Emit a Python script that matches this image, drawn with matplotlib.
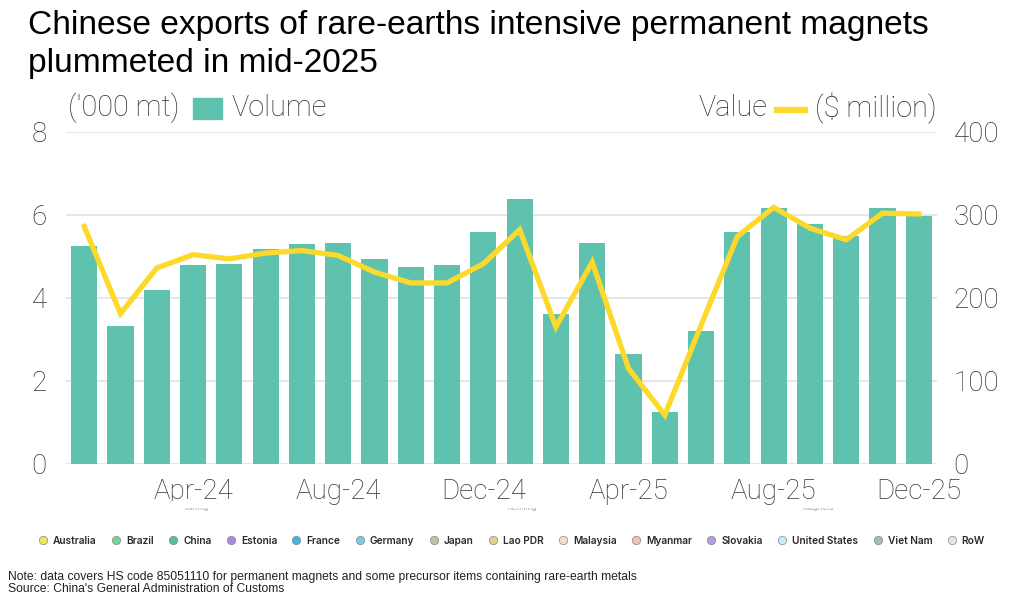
import matplotlib.pyplot as plt
from matplotlib.patches import Rectangle
from matplotlib.lines import Line2D

months = ["Jan-24", "Feb-24", "Mar-24", "Apr-24", "May-24", "Jun-24", "Jul-24", "Aug-24",
          "Sep-24", "Oct-24", "Nov-24", "Dec-24", "Jan-25", "Feb-25", "Mar-25", "Apr-25",
          "May-25", "Jun-25", "Jul-25", "Aug-25", "Sep-25", "Oct-25", "Nov-25", "Dec-25"]
# volume, '000 mt
volume = [5.26, 3.33, 4.20, 4.79, 4.82, 5.17, 5.29, 5.33, 4.93, 4.74, 4.80, 5.58,
          6.37, 3.60, 5.33, 2.64, 1.25, 3.20, 5.58, 6.16, 5.79, 5.49, 6.16, 5.96]
# value, $ million
value = [286, 181, 236, 252, 247, 254, 257, 251, 231, 218, 218, 241,
         282, 165, 243, 115, 59, 167, 274, 309, 284, 270, 302, 301]
shown_ticks = ["Apr-24", "Aug-24", "Dec-24", "Apr-25", "Aug-25", "Dec-25"]

countries = ["Australia", "Brazil", "China", "Estonia", "France", "Germany", "Japan",
             "Lao PDR", "Malaysia", "Myanmar", "Slovakia", "United States", "Viet Nam", "RoW"]
country_colors = ["#f2e55c", "#72d68f", "#5fb8a0", "#a98be0", "#3fb8e8", "#7cc9ee", "#b9c79c",
                  "#eccb8f", "#f5dfc5", "#f0c0c0", "#b49ce0", "#c8ecf8", "#9dc0ad", "#e4e4e4"]

BAR = "#5ec2ae"
LINE = "#fcd92a"
GREY = "#333333"

fig = plt.figure(figsize=(10.24, 5.99), dpi=100)
ax = fig.add_axes([0.0645, 0.2254, 0.8505, 0.5546])
ax2 = ax.twinx()

x = list(range(len(months)))
ax.bar(x, volume, width=0.72, color=BAR, zorder=2)
ax2.plot(x, value, color=LINE, lw=3.8, solid_joinstyle="miter", zorder=3)

ax.set_xlim(-0.5, len(months) - 0.5)
ax.set_ylim(0, 8)
ax2.set_ylim(0, 400)
ax.set_yticks([0, 2, 4, 6, 8])
ax2.set_yticks([0, 100, 200, 300, 400])
ax.grid(axis="y", color="#e2e2e2", lw=1.2, zorder=0)
ax.set_axisbelow(True)
ax.set_zorder(ax2.get_zorder() - 1)
ax2.patch.set_visible(False)
ax.set_xticks([months.index(m) for m in shown_ticks])
ax.set_xticklabels(shown_ticks)

tick_font = dict(family="Roboto", weight="light", size=20)
for a in (ax, ax2):
    for s in a.spines.values():
        s.set_visible(False)
    a.tick_params(length=0, colors=GREY)
    for lab in a.get_xticklabels() + a.get_yticklabels():
        lab.set_fontfamily(tick_font["family"])
        lab.set_fontweight(tick_font["weight"])
        lab.set_fontsize(tick_font["size"])
ax.tick_params(axis="y", pad=14)
ax2.tick_params(axis="y", pad=12)
ax.tick_params(axis="x", pad=10)

# title
fig.text(0.027, 0.983, "Chinese exports of rare-earths intensive permanent magnets\nplummeted in mid-2025",
         family="Liberation Sans", size=24.1, va="top", ha="left", color="black", linespacing=1.28)

# header legend
hy = 1 - 108 / 599
hfont = dict(family="Roboto", weight="light", size=20.8, color=GREY, va="center")
fig.text(68 / 1024, hy, "('000 mt)", **hfont)
fig.patches.append(Rectangle((193 / 1024, 1 - 119 / 599), 29 / 1024, 21 / 599,
                             transform=fig.transFigure, color=BAR, figure=fig))
fig.text(232 / 1024, hy, "Volume", **hfont)
fig.text(767 / 1024, hy, "Value", ha="right", **hfont)
fig.lines.append(Line2D([777 / 1024, 805 / 1024], [1 - 110 / 599] * 2, transform=fig.transFigure,
                        color=LINE, lw=4.5, figure=fig))
fig.text(815 / 1024, hy, "($ million)", **hfont)

# faint leftover labels, half hidden under the axis labels
for px, t in [(197, "Mining"), (522, "Refining"), (818, "Magnets")]:
    fig.text(px / 1024, 1 - 508 / 599, t, family="Inter", size=5.5, color="#a0a0a0",
             ha="center", va="center", zorder=1)
    fig.patches.append(Rectangle(((px - 25) / 1024, 1 - 507 / 599), 50 / 1024, 6 / 599,
                                 transform=fig.transFigure, color="white", figure=fig, zorder=2))

# country legend
handles = [Line2D([], [], ls="none", marker="o", markersize=6, markerfacecolor=c,
                  markeredgecolor="#888888", markeredgewidth=0.5) for c in country_colors]
leg = fig.legend(handles, countries, ncol=len(countries), loc="center", bbox_to_anchor=(0.500, 1 - 541 / 599),
                 frameon=False, handlelength=0.8, handletextpad=0.6, columnspacing=1.5,
                 prop=dict(family="Inter", weight="semibold", size=7.3))
for t in leg.get_texts():
    t.set_color("#2a2a2a")

nfont = dict(family="Liberation Sans", size=8.7, color="#222222", va="center")
fig.text(8 / 1024, 1 - 577 / 599, "Note: data covers HS code 85051110 for permanent magnets and some precursor items containing rare-earth metals", **nfont)
fig.text(8 / 1024, 1 - 589 / 599, "Source: China's General Administration of Customs", **nfont)

fig.savefig("out.png", dpi=100)
